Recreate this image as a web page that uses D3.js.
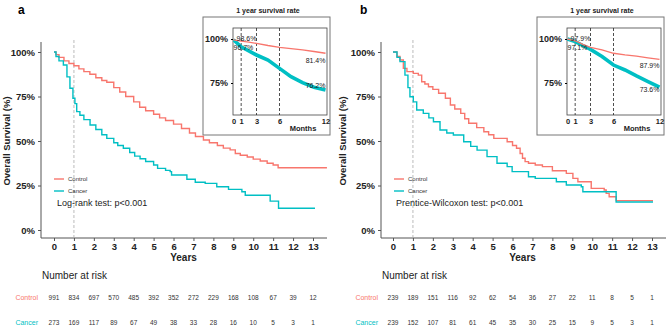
<!DOCTYPE html>
<html>
<head>
<meta charset="utf-8">
<script src="https://cdn.jsdelivr.net/npm/d3@7"></script>
<style>
  body { margin: 0; background: #fff; }
  svg { display: block; font-family: "Liberation Sans", Arial, sans-serif; }
</style>
</head>
<body>
<div id="chart"></div>
<script>
(function(){

// years on x, survival % on y
const years = [0,1,2,3,4,5,6,7,8,9,10,11,12,13];
const yTicks = [0, 25, 50, 75, 100];

const controlA = [[0,100],[0.1,98.5],[0.25,97],[0.5,95],[0.75,93.5],[1,92.3],[1.25,90.5],[1.5,89],[1.8,87.5],[2.1,85.5],[2.4,84],[2.65,83],[3,80],[3.3,77.5],[3.6,75],[4,72],[4.3,69],[4.6,67],[5,65],[5.3,63],[5.6,61.5],[6,59.5],[6.4,57],[6.8,54.5],[7.1,52.5],[7.5,50.6],[7.8,49],[8.2,47.5],[8.5,46],[8.84,45],[9.1,43],[9.35,42],[9.7,41],[10,39.8],[10.35,38.8],[10.7,37.5],[11,36.5],[11.25,35],[13.7,35]];
const cancerA = [[0,100],[0.1,97.5],[0.25,95],[0.47,92.7],[0.65,86],[0.8,79.6],[0.95,74],[1.05,71],[1.14,66.5],[1.3,64.5],[1.5,62],[1.81,59],[2.1,56.5],[2.4,53.5],[2.65,51.5],[3,49],[3.2,47.5],[3.48,45.9],[3.8,43.5],[4.05,41.5],[4.32,40],[4.6,38.5],[5,36.5],[5.2,34.6],[5.6,33.5],[5.83,32.8],[5.9,30.9],[6.67,28.5],[7.09,26.8],[7.59,26.2],[8.17,24.3],[8.76,22.8],[9.43,21.5],[9.6,19.5],[10.85,16.2],[11.27,12.2],[13.1,12.2]];
const controlB = [[0,100],[0.2,97.5],[0.35,95.5],[0.52,90.8],[0.7,89],[1.02,88],[1.27,87],[1.44,83.3],[1.6,82],[1.78,80.5],[2,79],[2.29,76.8],[2.63,74],[2.88,70.2],[3.1,68],[3.4,65.5],[3.6,62.5],[3.8,60],[4.2,57.5],[4.56,55.2],[4.8,53.5],[5.06,51.5],[5.73,49.6],[6,47.5],[6.2,45.9],[6.38,43],[6.5,40.3],[6.63,38.4],[6.8,37.5],[7.14,36.5],[7.5,35.6],[8,33.3],[8.7,31.8],[9.03,29],[9.28,27.1],[9.95,23.4],[10.6,22.5],[10.7,20.6],[10.85,18.7],[11.2,16.5],[13.05,16.5]];
const cancerB = [[0,100],[0.2,97],[0.35,94.6],[0.6,87],[0.75,80],[0.85,74.9],[1.02,72],[1.19,67.4],[1.52,65.5],[1.8,63],[2.03,60.8],[2.36,56.2],[2.7,54.5],[3.03,53.4],[3.55,49.6],[3.9,47],[4.22,44.9],[4.72,41.2],[5.22,37.5],[5.73,35.6],[5.98,32.8],[6.8,29.9],[7.14,29],[8.2,27.1],[8.7,25.3],[9.45,24.3],[9.53,21.5],[11.2,15.7],[13.05,15.7]];

// first year insets, months on x
const months = [0,1,3,6,12];
const insetControlA = [[0,99.5],[1,98.8],[2,98.2],[3,97.5],[4.5,96.3],[6,95.3],[7.5,94.5],[9,93.8],[10.5,92.9],[12,91.9]];
const insetCancerA = [[0,99.5],[1,95.6],[2,93.3],[3,90.9],[4.5,88],[6,83.3],[7.5,78.6],[9,75.2],[10.5,72.6],[12,71]];
const insetControlB = [[0,100],[1,99],[2,97],[3,95.3],[4.5,93.8],[6,91.9],[7.5,91],[9,90.3],[10.5,89.3],[12,88.4]];
const insetCancerB = [[0,100],[1,98.5],[2,96.3],[3,94.1],[4.5,90],[6,85.2],[7.5,82.4],[9,79],[10.5,75.8],[12,72.6]];
const insetLabelsA = ["98.6%", "96.7%", "81.4%", "76.2%"];
const insetLabelsB = ["97.9%", "97.1%", "87.9%", "73.6%"];

const riskControlA = [991,834,697,570,485,392,352,272,229,168,108,67,39,12];
const riskCancerA = [273,169,117,89,67,49,38,33,28,16,10,5,3,1];
const riskControlB = [239,189,151,116,92,62,54,36,27,22,11,8,5,1];
const riskCancerB = [239,152,107,81,61,45,35,30,25,15,9,5,3,1];

const red = "#F8766D", teal = "#00BFC4";

const svg = d3.select("#chart").append("svg")
    .attr("width", 668)
    .attr("height", 329);

function panel(p) {
    const g = svg.append("g");

    const x = d3.scaleLinear().domain([0, 13]).range([p.x0, p.x0 + 259]);
    const y = d3.scaleLinear().domain([0, 100]).range([230, 52]);

    // panel letter
    g.append("text").attr("x", p.letterX).attr("y", 14)
        .attr("font-size", 12).attr("font-weight", "bold").text(p.letter);

    // axes lines
    g.append("line").attr("x1", p.axisX).attr("x2", p.axisX).attr("y1", 42).attr("y2", 238)
        .attr("stroke", "#555").attr("stroke-width", 1);
    g.append("line").attr("x1", p.axisX).attr("x2", p.xEnd).attr("y1", 238).attr("y2", 238)
        .attr("stroke", "#555").attr("stroke-width", 1);

    const yAxis = g.append("g").attr("transform", `translate(${p.axisX},0)`)
        .call(d3.axisLeft(y).tickValues(yTicks).tickSize(3).tickFormat(d => d + "%"));
    yAxis.select(".domain").remove();
    yAxis.selectAll("line").attr("stroke", "#555");
    yAxis.selectAll("text").attr("font-size", 9.5).attr("font-weight", "bold")
        .attr("fill", "#222").attr("font-family", "Liberation Sans, Arial");

    const xAxis = g.append("g").attr("transform", "translate(0,238)")
        .call(d3.axisBottom(x).tickValues(years).tickSize(3).tickFormat(d3.format("d")));
    xAxis.select(".domain").remove();
    xAxis.selectAll("line").attr("stroke", "#555");
    xAxis.selectAll("text").attr("font-size", 9.5).attr("font-weight", "bold")
        .attr("fill", "#222").attr("font-family", "Liberation Sans, Arial").attr("dy", "0.75em").attr("y", 5);

    g.append("text").attr("x", x(6.5)).attr("y", 261).attr("text-anchor", "middle")
        .attr("font-size", 10).attr("font-weight", "bold").attr("fill", "#222").text("Years");

    g.append("text").attr("transform", `translate(${p.ylabX},141) rotate(-90)`)
        .attr("text-anchor", "middle").attr("font-size", 9.5).attr("font-weight", "bold")
        .attr("fill", "#222").text("Overall Survival (%)");

    // 1 year reference
    g.append("line").attr("x1", x(1)).attr("x2", x(1)).attr("y1", 40).attr("y2", 238)
        .attr("stroke", "#aaa").attr("stroke-dasharray", "3,2").attr("stroke-width", 0.8);

    const line = d3.line().x(d => x(d[0])).y(d => y(d[1])).curve(d3.curveStepAfter);
    [[p.control, red], [p.cancer, teal]].forEach(([d, c]) => {
        g.append("path").datum(d).attr("d", line).attr("fill", "none")
            .attr("stroke", c).attr("stroke-width", 1.4);
    });

    // legend
    [["Control", red, 179], ["Cancer", teal, 191]].forEach(([t, c, yy]) => {
        g.append("line").attr("x1", p.legX).attr("x2", p.legX + 10).attr("y1", yy).attr("y2", yy)
            .attr("stroke", c).attr("stroke-width", 1.4);
        g.append("text").attr("x", p.legX + 14).attr("y", yy).attr("dy", "0.35em")
            .attr("font-size", 6).attr("fill", "#333").text(t);
    });
    g.append("text").attr("x", p.testX).attr("y", 203).attr("dy", "0.35em")
        .attr("font-size", 9).attr("fill", "#222").text(p.test);

    // number at risk
    g.append("text").attr("x", p.axisX + 1).attr("y", 275).attr("dy", "0.35em")
        .attr("font-size", 10).attr("fill", "#222").text("Number at risk");
    [["Control", red, p.riskControl, 297.5], ["Cancer", teal, p.riskCancer, 322.5]].forEach(([t, c, vals, yy]) => {
        g.append("text").attr("x", p.axisX - 3).attr("y", yy).attr("dy", "0.35em")
            .attr("text-anchor", "end").attr("font-size", 7).attr("fill", c).text(t);
        g.selectAll(null).data(vals).enter().append("text")
            .attr("x", (d, i) => x(years[i])).attr("y", yy).attr("dy", "0.35em")
            .attr("text-anchor", "middle").attr("font-size", 6.5).attr("fill", "#333")
            .text(d => d);
    });

    // inset
    const ix = p.insetX;
    const ins = g.append("g");
    ins.append("rect").attr("x", ix).attr("y", 17).attr("width", 127).attr("height", 118)
        .attr("fill", "#fff").attr("stroke", "#777").attr("stroke-width", 1);
    ins.append("text").attr("x", ix + 65).attr("y", 11).attr("dy", "0.35em")
        .attr("text-anchor", "middle").attr("font-size", 7).attr("font-weight", "bold")
        .attr("fill", "#222").text("1 year survival rate");

    const mx = d3.scaleLinear().domain([0, 12]).range([ix + 30.5, ix + 122.5]);
    const my = d3.scaleLinear().domain([75, 100]).range([83, 39]);
    ins.append("rect").attr("x", ix + 30).attr("y", 28).attr("width", 94).attr("height", 87)
        .attr("fill", "none").attr("stroke", "#444").attr("stroke-width", 0.8);

    const clipId = "clip" + p.letter;
    ins.append("clipPath").attr("id", clipId).append("rect")
        .attr("x", ix + 30).attr("y", 28).attr("width", 94).attr("height", 87);

    months.slice(1, 4).forEach(m => {
        ins.append("line").attr("x1", mx(m)).attr("x2", mx(m)).attr("y1", 28).attr("y2", 115)
            .attr("stroke", "#222").attr("stroke-dasharray", "3,2").attr("stroke-width", 0.8);
    });

    const mline = d3.line().x(d => mx(d[0])).y(d => my(d[1]));
    ins.append("path").datum(p.insetCancer).attr("d", mline).attr("fill", "none")
        .attr("clip-path", `url(#${clipId})`)
        .attr("stroke", teal).attr("stroke-width", 3.6);
    ins.append("path").datum(p.insetControl).attr("d", mline).attr("fill", "none")
        .attr("clip-path", `url(#${clipId})`)
        .attr("stroke", red).attr("stroke-width", 1.3);

    const iy = ins.append("g").attr("transform", `translate(${ix + 30},0)`)
        .call(d3.axisLeft(my).tickValues([75, 100]).tickSize(2).tickFormat(d => d + "%"));
    iy.select(".domain").remove();
    iy.selectAll("text").attr("font-size", 9).attr("font-weight", "bold")
        .attr("fill", "#222").attr("font-family", "Liberation Sans, Arial");
    const ixa = ins.append("g").attr("transform", "translate(0,115)")
        .call(d3.axisBottom(mx).tickValues(months).tickSize(0).tickFormat(d3.format("d")));
    ixa.select(".domain").remove();
    ixa.selectAll("text").attr("font-size", 7.5).attr("font-weight", "bold")
        .attr("fill", "#222").attr("font-family", "Liberation Sans, Arial").attr("y", 4);
    ins.append("text").attr("x", ix + 100).attr("y", 128).attr("dy", "0.35em")
        .attr("text-anchor", "middle").attr("font-size", 7.5).attr("font-weight", "bold")
        .attr("fill", "#222").text("Months");

    const lab = p.insetLabels;
    const labPos = [
        [mx(0.4), my(100), "start"],
        [mx(0), my(95), "start"],
        [mx(12), my(p.insetLabelY[0]), "end"],
        [mx(12), my(p.insetLabelY[1]), "end"]
    ];
    lab.forEach((t, i) => {
        ins.append("text").attr("x", labPos[i][0]).attr("y", labPos[i][1]).attr("dy", "0.35em")
            .attr("text-anchor", labPos[i][2]).attr("font-size", 7).attr("fill", "#222").text(t);
    });
}

panel({
    letter: "a", letterX: 18, axisX: 41, x0: 54, xEnd: 327, ylabX: 10,
    control: controlA, cancer: cancerA, legX: 54, testX: 57,
    test: "Log-rank test: p<0.001",
    riskControl: riskControlA, riskCancer: riskCancerA,
    insetX: 203, insetControl: insetControlA, insetCancer: insetCancerA,
    insetLabels: insetLabelsA, insetLabelY: [87.5, 73.8]
});
panel({
    letter: "b", letterX: 360, axisX: 381, x0: 393, xEnd: 666, ylabX: 346,
    control: controlB, cancer: cancerB, legX: 394, testX: 396,
    test: "Prentice-Wilcoxon test: p<0.001",
    riskControl: riskControlB, riskCancer: riskCancerB,
    insetX: 537, insetControl: insetControlB, insetCancer: insetCancerB,
    insetLabels: insetLabelsB, insetLabelY: [84.7, 71.2]
});

})();
</script>
</body>
</html>
